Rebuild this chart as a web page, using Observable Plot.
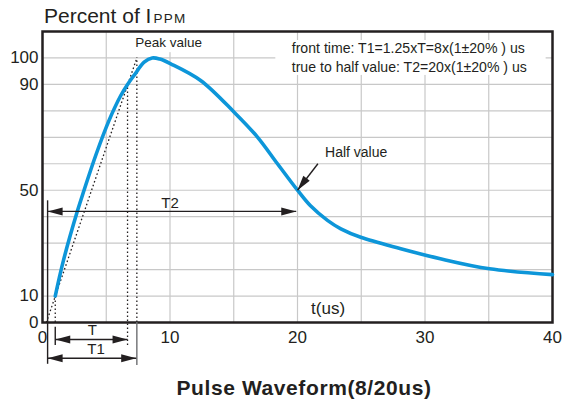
<!DOCTYPE html>
<html>
<head>
<meta charset="utf-8">
<script src="https://cdn.jsdelivr.net/npm/d3@7"></script>
<script src="https://cdn.jsdelivr.net/npm/@observablehq/plot@0.6"></script>
<style>
  body { margin: 0; background: #fff; }
  #wrap { position: relative; width: 568px; height: 401px; font-family: "Liberation Sans", Arial, sans-serif; color: #231f20; }
  #title { position: absolute; left: 44px; top: 5px; font-size: 21px; line-height: 1; white-space: nowrap; }
  #title span { font-size: 13.5px; letter-spacing: 1.3px; margin-left: 2px; }
  #bottom { position: absolute; left: 304px; top: 377px; transform: translateX(-50%); font-size: 21px; font-weight: bold; line-height: 1; white-space: nowrap; letter-spacing: 0.6px; }
</style>
</head>
<body>
<div id="wrap">
  <div id="title">Percent of I<span>PPM</span></div>
  <div id="bottom">Pulse Waveform(8/20us)</div>
</div>
<script>
// Waveform: time (us) and percent of IPPM
const curveT = [1.0, 1.64, 2.75, 3.26, 4.2, 5.22, 6.14, 6.67, 7.18, 7.97, 8.6, 9.2, 10.06, 12.4, 15.03, 16.86, 18.43, 20.0, 21.0, 22.35, 23.4, 24.96, 28.1, 31.2, 35.06, 40.0];
const curveV = [10, 23.4, 42.3, 50, 63.5, 76.4, 85.8, 90, 93.4, 98.4, 100, 99.6, 97.8, 91.5, 79.5, 70.1, 60, 50, 44.2, 38.6, 35.4, 32.2, 27.9, 24.1, 20.3, 18.1];

const xTicks = [0, 10, 20, 30, 40];
const yTicks = [0, 10, 50, 90, 100];
const xGrid = [5, 10, 15, 20, 25, 30, 35];
const yGrid = [10, 20, 30, 40, 50, 60, 70, 80, 90, 100];

// Construction lines (time, percent)
const frontLine = [{t: 0.3, v: 0}, {t: 7.4, v: 100}];
const dottedV = [
  {t: 1.0, v1: 0, v2: 10},
  {t: 6.67, v1: -8.7, v2: 90},
  {t: 7.4, v1: 0, v2: 100}
];
const solidV = [
  {t: 0.4, v1: 46, v2: -15.8, c: "#231f20"},
  {t: 1.0, v1: -1.8, v2: -8.7, c: "#231f20"},
  {t: 7.4, v1: 0, v2: -16.3, c: "#6d6e71"}
];
// Dimension arrows
const dimArrows = [
  {name: "T2", t1: 0.4, t2: 19.9, v: 42},
  {name: "T", t1: 1.0, t2: 6.67, v: -6.4},
  {name: "T1", t1: 0.4, t2: 7.35, v: -13.5}
];
const halfArrow = {t1: 21.6, v1: 60, t2: 20.0, v2: 50};

// Labels
const dimLabels = [
  {text: "T2", t: 10.0, v: 45.2},
  {text: "T", t: 3.9, v: -3.0},
  {text: "T1", t: 4.2, v: -10.2}
];
const noteLines = ["front time: T1=1.25xT=8x(1\u00b120% ) us", "true to half value: T2=20x(1\u00b120% ) us"];
const noteV = [103.4, 96.4];
const noteBoxes = [
  {t1: 18.3, t2: 39.5, v1: 93.4, v2: 106.6},
  {t1: 6.9, t2: 12.8, v1: 102, v2: 110}
];

const curve = curveT.map((t, i) => ({t, v: curveV[i]}));
const heads = [];
for (const a of dimArrows) {
  heads.push({t: a.t1, v: a.v, r: 180});
  heads.push({t: a.t2, v: a.v, r: 0});
}
heads.push({t: halfArrow.t2, v: halfArrow.v2, r: 127});

const arrowHead = {
  draw(ctx, size) {
    const r = Math.sqrt(size / Math.PI);
    ctx.moveTo(0, 0);
    ctx.lineTo(-3 * r, -0.8 * r);
    ctx.lineTo(-3 * r, 0.8 * r);
    ctx.closePath();
  }
};

const ink = "#231f20";
const chart = Plot.plot({
  width: 568,
  height: 401,
  marginLeft: 42,
  marginRight: 16,
  marginTop: 31,
  marginBottom: 79,
  style: {fontFamily: '"Liberation Sans", Arial, sans-serif', fontSize: "17px", color: ink, background: "transparent", overflow: "visible"},
  x: {domain: [0, 40], ticks: xTicks, tickSize: 0, tickPadding: 8, label: null},
  y: {domain: [0, 110], ticks: yTicks, tickSize: 0, tickPadding: 4, label: null},
  marks: [
    Plot.ruleX(xGrid, {stroke: "#c8c8c8", strokeWidth: 1.2}),
    Plot.ruleY(yGrid, {stroke: "#c8c8c8", strokeWidth: 1.2}),
    Plot.rect(noteBoxes, {x1: "t1", x2: "t2", y1: "v1", y2: "v2", fill: "white"}),
    Plot.frame({stroke: ink, strokeWidth: 2.5}),
    Plot.line(frontLine, {x: "t", y: "v", stroke: ink, strokeWidth: 1.3, strokeDasharray: "1.6,2.4", strokeLinecap: "butt"}),
    Plot.ruleX(dottedV, {x: "t", y1: "v1", y2: "v2", stroke: ink, strokeWidth: 1.3, strokeDasharray: "1.6,2.4"}),
    Plot.ruleX(solidV, {x: "t", y1: "v1", y2: "v2", stroke: d => d.c, strokeWidth: 1.4}),
    Plot.line(curve, {x: "t", y: "v", curve: "catmull-rom", stroke: "#0d96d9", strokeWidth: 3.6}),
    Plot.link(dimArrows, {x1: "t1", x2: "t2", y1: "v", y2: "v", stroke: ink, strokeWidth: 1.4}),
    Plot.link([halfArrow], {x1: "t1", y1: "v1", x2: "t2", y2: "v2", stroke: ink, strokeWidth: 1.4}),
    Plot.dot(heads, {x: "t", y: "v", rotate: "r", symbol: arrowHead, r: 5, fill: ink, stroke: "none"}),
    Plot.text(dimLabels, {x: "t", y: "v", text: "text", fontSize: 15, fill: ink}),
    Plot.text(noteLines, {x: () => 19.55, y: (d, i) => noteV[i], text: d => d, textAnchor: "start", fontSize: 14.1, fill: ink}),
    Plot.text(["Peak value"], {x: () => 9.9, y: () => 105.9, text: d => d, fontSize: 13.5, fill: ink}),
    Plot.text(["Half value"], {x: () => 24.6, y: () => 64.2, text: d => d, fontSize: 14, fill: ink}),
    Plot.text(["t(us)"], {x: () => 22.4, y: () => 5.4, text: d => d, fontSize: 17, fill: ink})
  ]
});
chart.style.position = "absolute";
chart.style.left = "0";
chart.style.top = "0";
document.getElementById("wrap").prepend(chart);
</script>
</body>
</html>
